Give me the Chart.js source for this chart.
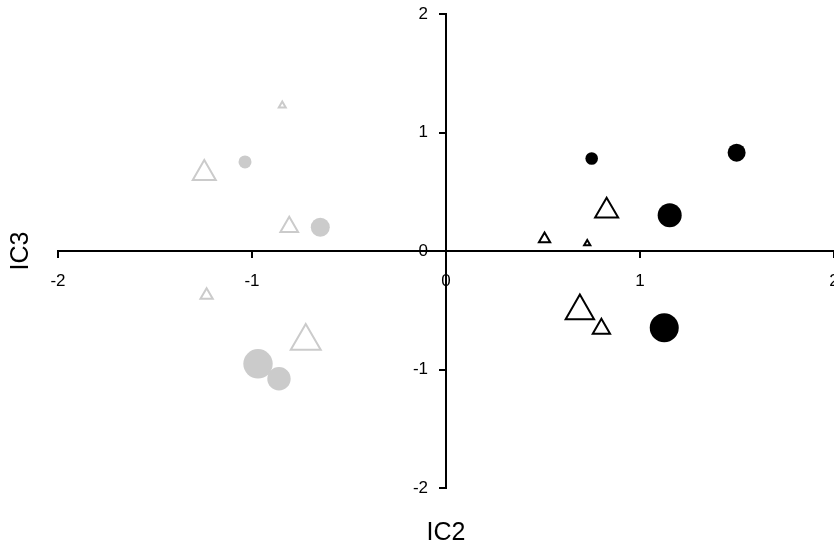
<!DOCTYPE html>
<html>
<head>
<meta charset="utf-8">
<script src="https://cdn.jsdelivr.net/npm/chart.js@4/dist/chart.umd.min.js"></script>
<style>
  html, body { margin: 0; padding: 0; background: #ffffff; }
  #wrap { width: 834px; height: 546px; }
</style>
</head>
<body>
<div id="wrap"><canvas id="chart" width="834" height="546"></canvas></div>
<script>
// Component scores (IC2, IC3); r is the marker size in pixels
const grayCircles = [
  { x: -1.036, y: 0.752, r: 6.5 },
  { x: -0.648, y: 0.200, r: 9.5 },
  { x: -0.969, y: -0.952, r: 14.7 },
  { x: -0.861, y: -1.078, r: 11.7 }
];
const grayTriangles = [
  { x: -0.844, y: 1.227, r: 4 },
  { x: -1.246, y: 0.655, r: 13.3 },
  { x: -0.808, y: 0.204, r: 10.2 },
  { x: -1.234, y: -0.374, r: 7.1 },
  { x: -0.723, y: -0.761, r: 17.3 }
];
const blackCircles = [
  { x: 0.751, y: 0.780, r: 6.3 },
  { x: 1.498, y: 0.830, r: 9 },
  { x: 1.153, y: 0.302, r: 12 },
  { x: 1.125, y: -0.648, r: 14.5 }
];
const blackTriangles = [
  { x: 0.828, y: 0.338, r: 13.3 },
  { x: 0.508, y: 0.102, r: 6.5 },
  { x: 0.728, y: 0.063, r: 3.6 },
  { x: 0.690, y: -0.506, r: 16.4 },
  { x: 0.801, y: -0.657, r: 10 }
];
const xTickLabels = ['-2', '-1', '0', '1', '2'];
const yTickLabels = ['-2', '-1', '0', '1', '2'];
const xTitle = 'IC2';
const yTitle = 'IC3';

const GRAY = '#cbcbcb';
const BLACK = '#000000';
const tickFont = { family: 'Liberation Sans, Arial, sans-serif', size: 17 };
const titleFont = { family: 'Liberation Sans, Arial, sans-serif', size: 25, lineHeight: 1 };

// Linear scale for axes that cross at the origin: the value labels of a
// vertical crossing axis sit left of its tick marks instead of on the line.
class CrossLinearScale extends Chart.LinearScale {
  _computeLabelItems(chartArea) {
    const items = super._computeLabelItems(chartArea);
    if (this.axis === 'y') {
      const shift = this.options.grid.tickLength + this.options.ticks.padding;
      items.forEach((it) => { it.options.translation[0] -= shift; });
    }
    return items;
  }
}
CrossLinearScale.id = 'crossLinear';
CrossLinearScale.defaults = Chart.LinearScale.defaults;
Chart.register(CrossLinearScale);

function tickFrom(labels) {
  return (value) => {
    const i = Math.round(value) + 2;
    return labels[i] !== undefined ? labels[i] : '';
  };
}
// Crossing axes take no room from the plot area
function noRoom(scale) {
  scale.paddingLeft = 0;
  scale.paddingRight = 0;
  scale.paddingTop = 0;
  scale.paddingBottom = 0;
  if (scale.isHorizontal()) scale.height = 0; else scale.width = 0;
}

new Chart(document.getElementById('chart'), {
  type: 'bubble',
  data: {
    datasets: [
      { data: grayCircles, pointStyle: 'circle', backgroundColor: GRAY, borderWidth: 0 },
      { data: grayTriangles, pointStyle: 'triangle', backgroundColor: 'rgba(0,0,0,0)', borderColor: GRAY, borderWidth: 2 },
      { data: blackCircles, pointStyle: 'circle', backgroundColor: BLACK, borderWidth: 0 },
      { data: blackTriangles, pointStyle: 'triangle', backgroundColor: 'rgba(0,0,0,0)', borderColor: BLACK, borderWidth: 2 }
    ]
  },
  options: {
    responsive: false,
    animation: false,
    events: [],
    layout: { autoPadding: false, padding: { left: 0, right: 0, top: 14, bottom: 0 } },
    plugins: { legend: { display: false }, tooltip: { enabled: false } },
    scales: {
      x: {
        type: 'crossLinear', min: -2, max: 2,
        position: { y: 0 },
        afterFit: noRoom,
        grid: { drawOnChartArea: false, color: BLACK, lineWidth: 2, tickLength: 6 },
        border: { color: BLACK, width: 2 },
        ticks: { stepSize: 1, color: BLACK, font: tickFont, padding: 14, maxRotation: 0, callback: tickFrom(xTickLabels) }
      },
      y: {
        type: 'crossLinear', min: -2, max: 2,
        position: { x: 0 },
        afterFit: noRoom,
        grid: { drawOnChartArea: false, color: BLACK, lineWidth: 2, tickLength: 6 },
        border: { color: BLACK, width: 2 },
        ticks: { stepSize: 1, color: BLACK, font: tickFont, padding: 12, callback: tickFrom(yTickLabels) }
      },
      xName: {
        type: 'linear', axis: 'x', min: -2, max: 2, position: 'bottom',
        grid: { display: false, drawTicks: false },
        border: { display: false },
        ticks: { display: false },
        title: { display: true, text: xTitle, color: BLACK, font: titleFont, padding: { top: 33, bottom: 0 } }
      },
      yName: {
        type: 'linear', axis: 'y', min: -2, max: 2, position: 'left',
        grid: { display: false, drawTicks: false },
        border: { display: false },
        ticks: { display: false },
        title: { display: true, text: yTitle, color: BLACK, font: titleFont, padding: { top: 9, bottom: 24 } }
      }
    }
  }
});
</script>
</body>
</html>
